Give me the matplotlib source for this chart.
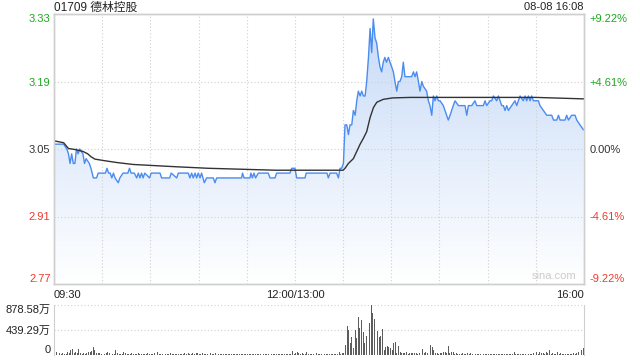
"""Intraday minute chart for 01709 (price line, average line, volume bars)."""

import matplotlib

matplotlib.use("Agg")
import matplotlib.pyplot as plt
import numpy as np
from matplotlib.colors import LinearSegmentedColormap
from matplotlib.patches import Polygon

plt.rcParams["font.family"] = ["Liberation Sans", "Noto Sans CJK SC", "DejaVu Sans"]

title = "01709 德林控股"
stamp = "08-08 16:08"
watermark = "sina.com"

price_ticks = [2.77, 2.91, 3.05, 3.19, 3.33]
price_labels = ["2.77", "2.91", "3.05", "3.19", "3.33"]
pct_labels = ["-9.22%", "-4.61%", "0.00%", "+4.61%", "+9.22%"]
tick_colors = ["#ee3a2c", "#ee3a2c", "#333333", "#1fa81f", "#1fa81f"]

time_ticks = [0, 150, 330]
time_labels = ["09:30", "12:00/13:00", "16:00"]

vol_ticks = [0, 439.29, 878.58]
vol_labels = ["0", "439.29万", "878.58万"]

# trading minutes since 09:30 (lunch break removed) and last price
price_min = [
    0, 6, 8, 9, 10, 11, 12, 13, 14, 15, 16, 18, 19, 20, 22, 23, 24.5, 26.5,
    27.5, 32, 33, 34, 35, 36, 37, 38, 40, 41, 43, 46, 47, 48, 50, 51.5, 52.5,
    53.5, 54.5, 55.5, 56.5, 59.5, 60.5, 62, 66, 67, 72, 73, 76.4, 77.4, 83.6,
    84.6, 85.7, 86.7, 87.8, 88.8, 89.8, 90.9, 91.9, 93.6, 95, 99.2, 100.2,
    101.3, 116.8, 117.4, 118.3, 122, 122.6, 123.5, 124.5, 125.5, 127.2, 133.4,
    134.5, 137.6, 138.6, 146.9, 148, 150, 151.1, 156.3, 157, 170, 170.8, 171.9,
    176, 177.1, 178.1, 179.1, 180.2, 181.2, 182.3, 183.3, 184.3, 185.4, 186.4,
    187.5, 188.5, 189.5, 190.6, 191.6, 192.6, 193.7, 194.7, 195.8, 196.8,
    197.8, 198.8, 199.9, 200.9, 202, 203, 204, 205, 206, 207, 208.2, 209.2,
    210.3, 211.3, 212.3, 213.4, 214.4, 215.4, 216.5, 217.5, 218.5, 222.7,
    223.8, 224.8, 225.8, 226.9, 227.9, 229, 230, 232, 233.1, 234.1, 235.2,
    236.2, 237.2, 238.3, 239.3, 240.4, 242.4, 244.5, 245.5, 246.6, 248.6,
    249.7, 251.8, 255.9, 257, 258, 260.1, 262.1, 263.2, 265.3, 267.3, 268.4,
    269.4, 271.5, 272.5, 273.6, 275.6, 276.7, 277.7, 278.8, 279.8, 280.8,
    281.9, 282.9, 285, 287, 288.1, 289.1, 290.2, 292.2, 293.3, 294.3, 295.4,
    296.4, 297.4, 298.5, 301.6, 302.6, 304.7, 306.8, 309.9, 311, 313, 314.1,
    315.1, 318.2, 319.2, 320.3, 322.3, 324.4, 325.5, 327.5, 329.6,
]
price_val = [
    3.06, 3.06, 3.05, 3.04, 3.02, 3.04, 3.02, 3.02, 3.05, 3.04, 3.05, 3.04,
    3.02, 3.03, 3.02, 3.01, 2.99, 2.99, 3.00, 3.00, 3.01, 3.00, 3.00, 2.99,
    3.00, 2.99, 2.98, 2.99, 3.00, 3.00, 3.01, 3.00, 3.00, 2.99, 3.00, 2.99,
    3.00, 2.99, 3.00, 2.99, 3.00, 3.00, 3.00, 2.99, 2.99, 3.00, 2.99, 3.00,
    3.00, 2.99, 3.00, 2.99, 3.00, 2.99, 3.00, 2.99, 3.00, 2.98, 2.99, 2.99,
    2.98, 2.99, 2.99, 3.00, 2.99, 2.99, 3.00, 2.99, 3.00, 2.99, 3.00, 3.00,
    2.99, 2.99, 3.00, 3.00, 3.01, 3.01, 2.99, 2.99, 3.00, 3.00, 2.99, 3.00,
    3.00, 2.99, 3.01, 3.01, 3.02, 3.10, 3.10, 3.08, 3.10, 3.10, 3.13, 3.12,
    3.15, 3.17, 3.16, 3.17, 3.16, 3.16, 3.19, 3.24, 3.30, 3.25, 3.32, 3.28,
    3.27, 3.24, 3.22, 3.21, 3.23, 3.24, 3.23, 3.24, 3.23, 3.22, 3.21, 3.19,
    3.17, 3.19, 3.19, 3.20, 3.23, 3.20, 3.20, 3.21, 3.20, 3.21, 3.19, 3.17,
    3.19, 3.18, 3.17, 3.15, 3.14, 3.12, 3.16, 3.15, 3.16, 3.15, 3.15, 3.14,
    3.12, 3.11, 3.12, 3.14, 3.15, 3.14, 3.14, 3.12, 3.14, 3.14, 3.15, 3.14,
    3.14, 3.14, 3.15, 3.14, 3.15, 3.15, 3.16, 3.15, 3.16, 3.15, 3.14, 3.14,
    3.13, 3.14, 3.13, 3.14, 3.15, 3.14, 3.15, 3.16, 3.15, 3.16, 3.15, 3.16,
    3.15, 3.16, 3.15, 3.15, 3.14, 3.13, 3.12, 3.12, 3.11, 3.11, 3.12, 3.11,
    3.11, 3.12, 3.11, 3.12, 3.12, 3.11, 3.10, 3.09,
]

# running average price
avg_min = [
    0, 6, 9, 13, 18, 21, 23, 25.5, 31, 39, 49, 60, 77, 96, 117, 138, 180,
    181.2, 183.3, 186.4, 188.5, 190.6, 192.6, 194.7, 196.8, 198.9, 201, 205,
    211, 222, 300, 329.6,
]
avg_val = [
    3.067, 3.063, 3.051, 3.049, 3.045, 3.040, 3.034, 3.029, 3.026, 3.022,
    3.018, 3.016, 3.013, 3.010, 3.008, 3.006, 3.006, 3.010, 3.020, 3.030,
    3.045, 3.060, 3.072, 3.086, 3.115, 3.136, 3.147, 3.153, 3.156, 3.157,
    3.157, 3.154,
]

# volume per minute (万 shares), one value per trading minute
volume = [
    58, 47, 30, 40, 25, 30, 20, 25, 58, 40,
    88, 105, 40, 47, 30, 100, 30, 18, 30, 22,
    40, 58, 47, 76, 135, 88, 30, 40, 30, 22,
    30, 25, 40, 47, 30, 40, 22, 25, 88, 30,
    25, 18, 25, 58, 30, 20, 25, 18, 30, 22,
    15, 25, 30, 18, 22, 15, 20, 25, 30, 18,
    15, 22, 35, 58, 47, 25, 20, 18, 25, 15,
    22, 18, 30, 20, 15, 22, 18, 25, 15, 20,
    18, 30, 22, 40, 25, 18, 30, 22, 35, 40,
    25, 20, 30, 18, 22, 15, 25, 30, 18, 22,
    35, 58, 25, 20, 18, 22, 15, 12, 15, 10,
    18, 12, 20, 15, 12, 18, 10, 15, 12, 20,
    15, 10, 12, 18, 15, 12, 10, 15, 20, 12,
    18, 15, 10, 12, 15, 18, 12, 20, 15, 10,
    12, 15, 12, 18, 10, 15, 12, 20, 70, 20,
    30, 58, 40, 20, 30, 20, 20, 47, 15, 12,
    15, 10, 18, 30, 12, 15, 10, 12, 18, 15,
    12, 15, 10, 18, 12, 15, 15, 58, 25, 30,
    30, 176, 510, 440, 217, 322, 117, 440, 293, 662,
    468, 615, 410, 205, 334, 451, 568, 878.58, 744, 633,
    662, 427, 322, 334, 451, 88, 146, 158, 146, 129,
    88, 217, 234, 30, 150, 58, 30, 40, 30, 47,
    25, 30, 40, 30, 40, 30, 25, 40, 100, 100,
    40, 58, 30, 117, 176, 146, 88, 40, 30, 25,
    40, 30, 47, 58, 40, 158, 40, 58, 47, 25,
    30, 20, 18, 25, 30, 20, 25, 40, 20, 30,
    15, 12, 18, 15, 12, 10, 15, 12, 18, 15,
    12, 15, 10, 12, 18, 15, 12, 10, 15, 12,
    18, 15, 12, 15, 20, 18, 47, 15, 12, 18,
    15, 20, 18, 15, 30, 18, 20, 25, 40, 22,
    47, 25, 47, 30, 40, 22, 58, 30, 88, 25,
    30, 25, 18, 47, 25, 30, 20, 15, 18, 18,
    20, 15, 18, 30, 20, 40, 58, 25, 88, 129,
]

GRID = "#d0d0d0"
SPINE = "#cfcfcf"
FS = 8

fig = plt.figure(figsize=(6.4, 3.6), dpi=100)
ax = fig.add_axes([54 / 640, 1 - 284 / 360, 530 / 640, 270 / 360])
axv = fig.add_axes([54 / 640, 1 - 355 / 360, 530 / 640, 50 / 360])

xmin, xmax = 0, 330
ymin, ymax = price_ticks[0], price_ticks[-1]

# gradient fill under the price line
verts = [(price_min[0], ymin)] + list(zip(price_min, price_val)) + [(price_min[-1], ymin)]
clip = Polygon(verts, closed=True, facecolor="none", edgecolor="none")
ax.add_patch(clip)
cmap = LinearSegmentedColormap.from_list("fill", ["#ffffff", "#c6daf8"])
grad = np.linspace(1, 0, 256).reshape(-1, 1)
im = ax.imshow(grad, extent=[xmin, xmax, ymin, ymax], aspect="auto", cmap=cmap,
               origin="upper", zorder=1)
im.set_clip_path(clip)

ax.plot(price_min, price_val, color="#4a8cf0", linewidth=1.0, zorder=3)
ax.plot(avg_min, avg_val, color="#333333", linewidth=1.0, zorder=4)

for m in range(30, 330, 30):
    ax.axvline(m, color=GRID, linestyle=(0, (1, 2)), linewidth=0.8, zorder=2)
for p in price_ticks[1:-1]:
    ax.axhline(p, color=GRID, linestyle=(0, (1, 2)), linewidth=0.8, zorder=2)

ax.set_xlim(xmin, xmax)
ax.set_ylim(ymin, ymax)
ax.set_yticks(price_ticks)
ax.set_yticklabels(price_labels, fontsize=FS)
for lbl, c in zip(ax.get_yticklabels(), tick_colors):
    lbl.set_color(c)
ax.get_yticklabels()[0].set_va("bottom")
ax.get_yticklabels()[-1].set_va("top")
ax.set_xticks(time_ticks)
ax.set_xticklabels(time_labels, fontsize=FS, color="#222222")
xl = ax.get_xticklabels()
xl[0].set_ha("left")
xl[-1].set_ha("right")
ax.tick_params(axis="both", length=0, pad=2.5)
ax.tick_params(axis="x", pad=4)

axr = ax.twinx()
axr.set_ylim(ymin, ymax)
axr.set_yticks(price_ticks)
axr.set_yticklabels(pct_labels, fontsize=FS)
for lbl, c in zip(axr.get_yticklabels(), tick_colors):
    lbl.set_color(c)
axr.get_yticklabels()[0].set_va("bottom")
axr.get_yticklabels()[-1].set_va("top")
axr.tick_params(axis="y", length=0, pad=4)

for a in (ax, axr):
    for s in a.spines.values():
        s.set_color(SPINE)
        s.set_linewidth(1.0)

ax.text(0.985, 0.012, watermark, transform=ax.transAxes, ha="right", va="bottom",
        fontsize=8, color="#cccccc", zorder=5)

# volume panel
bar_x = np.arange(len(volume)) + 0.5
axv.bar(bar_x, volume, width=0.6, color="#5c5c5c", linewidth=0)
axv.set_xlim(xmin, xmax)
axv.set_ylim(vol_ticks[0], vol_ticks[-1])
for v in vol_ticks[1:]:
    axv.axhline(v, color=GRID, linestyle=(0, (1, 2)), linewidth=0.8, zorder=0)
axv.set_xticks([])
axv.set_yticks(vol_ticks)
axv.set_yticklabels(vol_labels, fontsize=FS, color="#222222")
axv.get_yticklabels()[0].set_va("bottom")
axv.get_yticklabels()[-1].set_va("top")
axv.tick_params(axis="y", length=0, pad=2.5)
axv.spines["top"].set_visible(False)
axv.spines["bottom"].set_visible(False)
for side in ("left", "right"):
    axv.spines[side].set_color(SPINE)

fig.text(54 / 640, 1 - 7.5 / 360, title, ha="left", va="center", fontsize=8.5, color="#222222")
fig.text(584 / 640, 1 - 7.5 / 360, stamp, ha="right", va="center", fontsize=8, color="#222222")

fig.savefig("out.png", dpi=100)
